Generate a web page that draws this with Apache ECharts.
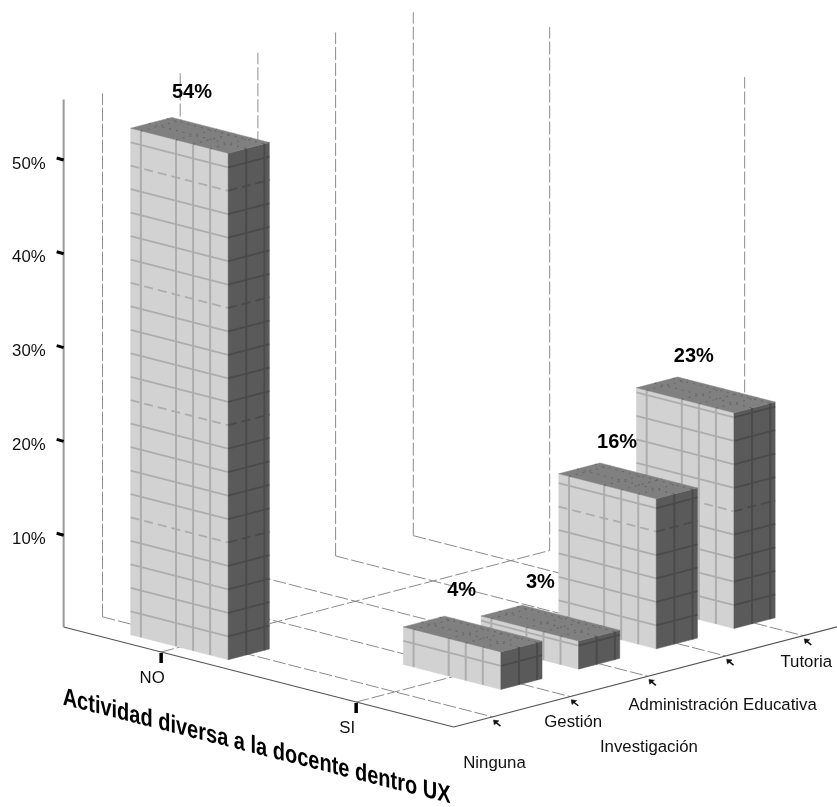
<!DOCTYPE html>
<html>
<head>
<meta charset="utf-8">
<title>Actividad diversa a la docente dentro UX</title>
<style>
  html, body { margin: 0; padding: 0; background: #fff; }
  #chart { width: 837px; height: 807px; }
</style>
<script src="https://cdn.jsdelivr.net/npm/echarts@6/dist/echarts.min.js"></script>
</head>
<body>
<div id="chart"></div>
<script>
// Categories of the two floor axes
const diversa = ['NO', 'SI'];
const actividades = ['Ninguna', 'Gestión', 'Investigación', 'Administración Educativa', 'Tutoria'];
// Percentage of teachers per activity, one list per "diversa" answer (0 = no bar)
const porcentajeNo = [54, 0, 0, 0, 0];
const porcentajeSi = [0, 4, 3, 16, 23];
// Vertical axis
const zTicks = [10, 20, 30, 40, 50];
const zTop = 55.8;
const tituloDiversa = 'Actividad diversa a la docente dentro UX';

// Oblique projection of (a, b, z) onto the drawing plane
const PROJ = { x0: 200, y0: 641.85, ax: 195, ay: 50, bx: 77.7, by: -20.3, z: 9.38 };
function project(a, b, z) {
  return [
    PROJ.x0 + PROJ.ax * (a - 1) + PROJ.bx * (b - 1),
    PROJ.y0 + PROJ.ay * (a - 1) + PROJ.by * (b - 1) - PROJ.z * z
  ];
}

const aMin = 0.5, aMax = 2.5, bMin = 0.5, bMax = 5.5;
const halfA = 0.25, halfB = 0.265;
const meshA = [0.105, 0.465, 0.64, 0.815];
const meshB = [0.44, 0.88];
const meshZ = 2.5;

const FACE = {
  light: '#d2d2d2', lightLine: '#adadad',
  dark: '#5a5a5a', darkLine: '#4a4a4a',
  top: '#808080', topLine: '#686868'
};

// Dashed guides on the floor and on the two back walls
const guides = [];
diversa.forEach((_, i) => {
  const a = i + 1;
  guides.push([a, bMin, 0, a, bMax, 0]);
  guides.push([a, bMax, 0, a, bMax, zTop]);
});
actividades.forEach((_, i) => {
  const b = i + 1;
  guides.push([aMin, b, 0, aMax, b, 0]);
  guides.push([aMin, b, 0, aMin, b, zTop]);
});

// Bars, painted from the back to the front
const bars = [];
[porcentajeNo, porcentajeSi].forEach((row, ai) => {
  row.forEach((v, bi) => { if (v > 0) bars.push([ai + 1, bi + 1, v]); });
});
bars.sort((p, q) => (q[1] - p[1]) || (p[0] - q[0]));

const fontRegular = '16.8px "Liberation Sans", Arial, sans-serif';
const fontBold = 'bold 20px "Liberation Sans", Arial, sans-serif';
const fontTitle = 'bold 25px "Liberation Sans", Arial, sans-serif';

function pt(api, a, b, z) { return api.coord(project(a, b, z)); }
function line(p, q, stroke, lineWidth, lineDash) {
  return {
    type: 'line', silent: true,
    shape: { x1: p[0], y1: p[1], x2: q[0], y2: q[1] },
    style: { stroke, lineWidth, lineDash: lineDash || null, fill: null }
  };
}
function poly(points, fill) {
  return { type: 'polygon', silent: true, shape: { points }, style: { fill, stroke: fill, lineWidth: 0.5 } };
}
function label(p, text, font, align, fill) {
  return {
    type: 'text', silent: true, x: p[0], y: p[1],
    style: { text, font, fill: fill || '#111', textAlign: align || 'center', textVerticalAlign: 'middle' }
  };
}

function renderGuide(params, api) {
  const g = guides[params.dataIndex];
  return line(pt(api, g[0], g[1], g[2]), pt(api, g[3], g[4], g[5]), '#8c8c8c', 1, [13, 3]);
}

function renderBar(params, api) {
  const a = api.value(0), b = api.value(1), h = api.value(2);
  const a0 = a - halfA, a1 = a + halfA, b0 = b - halfB, b1 = b + halfB;
  const children = [];
  // Light face runs along the "diversa" axis, dark face along the activity axis
  children.push(poly([pt(api, a0, b0, 0), pt(api, a1, b0, 0), pt(api, a1, b0, h), pt(api, a0, b0, h)], FACE.light));
  children.push(poly([pt(api, a1, b0, 0), pt(api, a1, b1, 0), pt(api, a1, b1, h), pt(api, a1, b0, h)], FACE.dark));
  children.push(poly([pt(api, a0, b0, h), pt(api, a1, b0, h), pt(api, a1, b1, h), pt(api, a0, b1, h)], FACE.top));
  // Wireframe over the faces; every fifth level is drawn broken
  let k = 1;
  for (let z = meshZ; z < h; z += meshZ, k++) {
    const dash = k % 5 === 0 ? [9, 5] : null;
    children.push(line(pt(api, a0, b0, z), pt(api, a1, b0, z), FACE.lightLine, 1.8, dash));
    children.push(line(pt(api, a1, b0, z), pt(api, a1, b1, z), FACE.darkLine, 1.8, dash));
  }
  meshA.forEach(f => {
    const x = a0 + f * (a1 - a0);
    children.push(line(pt(api, x, b0, 0), pt(api, x, b0, h), FACE.lightLine, 2));
    children.push(line(pt(api, x, b0, h), pt(api, x, b1, h), FACE.topLine, 1.2, [2, 5]));
  });
  meshB.forEach(f => {
    const y = b0 + f * (b1 - b0);
    children.push(line(pt(api, a1, y, 0), pt(api, a1, y, h), FACE.darkLine, 2));
    children.push(line(pt(api, a0, y, h), pt(api, a1, y, h), FACE.topLine, 1.2, [2, 5]));
  });
  return { type: 'group', children };
}

// Small adjustments that keep each value label clear of its bar
const valueLabelNudge = { 54: [2, 0], 4: [-1, -1], 3: [0, 2], 16: [-1, 5], 23: [-2, 5] };

function renderValueLabel(params, api) {
  const v = api.value(2);
  const p = pt(api, api.value(0), api.value(1), v);
  const n = valueLabelNudge[v];
  return label([p[0] - 10 + n[0], p[1] - 43 + n[1]], v + '%', fontBold, 'center', '#000');
}

// Offset below the front edge where each activity name sits
const labelDrop = [47, 26, 71, 49, 27];
const labelShift = [2, 3, 1, -3, 3];

function renderFrame(params, api) {
  const c = [];
  const origin = pt(api, aMin, bMin, 0);
  const corner = pt(api, aMax, bMin, 0);
  const end = pt(api, aMax, bMax + 0.1, 0);
  c.push(line(origin, corner, '#555', 1.2));
  c.push(line(corner, end, '#555', 1.2));
  c.push(line(origin, [origin[0], origin[1] - PROJ.z * zTop - 4], '#999', 2));
  zTicks.forEach(t => {
    const q = pt(api, aMin, bMin, t);
    c.push(line([q[0] - 7, q[1]], [q[0], q[1] + 2], '#000', 3));
    c.push(label([q[0] - 18, q[1] + 6], t + '%', fontRegular, 'right'));
  });
  diversa.forEach((name, i) => {
    const q = pt(api, i + 1, bMin, 0);
    c.push(line([q[0], q[1] + 1], [q[0], q[1] + 11], '#000', 3.5));
    c.push(label([q[0] - 9, q[1] + 26], name, fontRegular));
  });
  actividades.forEach((name, i) => {
    const q = pt(api, aMax, i + 1, 0);
    const tx = q[0] + 1, ty = q[1] + 3.2;
    c.push(poly([[tx, ty], [tx + 5.5, ty + 0.8], [tx + 0.8, ty + 4.8]], '#111'));
    c.push(line([tx + 2, ty + 2], [tx + 7, ty + 6], '#111', 1.5));
    c.push(label([q[0] + labelShift[i], q[1] + labelDrop[i]], name, fontRegular));
  });
  // Axis title sheared along the floor edge
  c.push({
    type: 'text', silent: true,
    x: origin[0] - 1, y: origin[1] + 83,
    scaleX: 0.8,
    skewY: -Math.atan(0.255),
    style: { text: tituloDiversa, font: fontTitle, fill: '#000', textAlign: 'left', textVerticalAlign: 'bottom' }
  });
  return { type: 'group', children: c };
}

const chart = echarts.init(document.getElementById('chart'), null, { renderer: 'canvas' });
chart.setOption({
  animation: false,
  backgroundColor: '#ffffff',
  grid: { left: 0, right: 0, top: 0, bottom: 0 },
  xAxis: { type: 'value', min: 0, max: 837, show: false },
  yAxis: { type: 'value', min: 0, max: 807, inverse: true, show: false },
  series: [
    { type: 'custom', name: 'guias', z: 1, silent: true, clip: false, renderItem: renderGuide, data: guides.map((g, i) => [i]) },
    { type: 'custom', name: 'ejes', z: 2, silent: true, clip: false, renderItem: renderFrame, data: [[0]] },
    { type: 'custom', name: 'barras', z: 3, silent: true, renderItem: renderBar, data: bars, encode: { x: 0, y: 1 } },
    { type: 'custom', name: 'valores', z: 4, silent: true, clip: false, renderItem: renderValueLabel, data: bars, encode: { x: 0, y: 1 } }
  ]
});
</script>
</body>
</html>
